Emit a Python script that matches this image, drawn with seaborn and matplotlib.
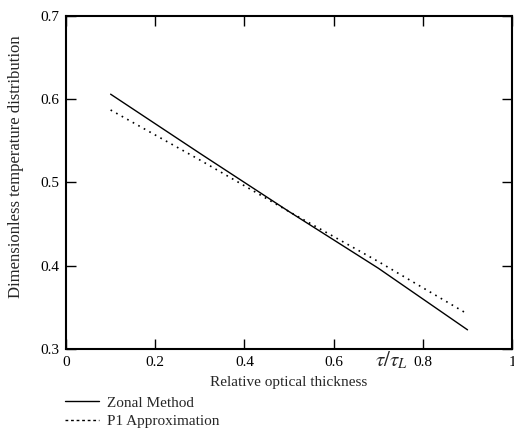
import matplotlib
matplotlib.use("Agg")
import matplotlib.pyplot as plt
import seaborn as sns
import pandas as pd
from matplotlib.lines import Line2D

tau = [0.1, 0.3, 0.5, 0.7, 0.9]
zonal = [0.606, 0.535, 0.465, 0.397, 0.323]
p1 = [0.587, 0.527, 0.465, 0.405, 0.342]
xticks = [0, 0.2, 0.4, 0.6, 0.8, 1]
yticks = [0.3, 0.4, 0.5, 0.6, 0.7]
xtick_labels = ["0", "0.2", "0.4", "0.6", "0.8", "1"]
ytick_labels = ["0.3", "0.4", "0.5", "0.6", "0.7"]

sns.set_theme(style="ticks")
plt.rcParams['font.family'] = ['Liberation Serif', 'DejaVu Serif']
plt.rcParams['mathtext.fontset'] = 'stix'

df = pd.DataFrame({"tau": tau + tau,
                   "val": zonal + p1,
                   "method": ["Zonal Method"] * len(tau) + ["P1 Approximation"] * len(tau)})

fig = plt.figure(figsize=(5.14, 4.3), dpi=100)
ax = fig.add_axes([0.1284, 0.1884, 0.868, 0.7746])

sns.lineplot(data=df[df.method == "Zonal Method"], x="tau", y="val", ax=ax,
             color="black", lw=1.0, legend=False)
sns.lineplot(data=df[df.method == "P1 Approximation"], x="tau", y="val", ax=ax,
             color="black", lw=1.2, legend=False)
ax.lines[1].set_linestyle((0, (1, 2.8)))

ax.set_xlim(0, 1)
ax.set_ylim(0.3, 0.7)
ax.set_xticks(xticks)
ax.set_xticklabels(xtick_labels, fontsize=11)
ax.set_yticks(yticks)
ax.set_yticklabels(ytick_labels, fontsize=11)
ax.tick_params(direction="in", top=True, right=True, length=7, width=1, pad=5, colors="black")
for s in ax.spines.values():
    s.set_linewidth(1.5)
    s.set_color("black")

ax.set_xlabel("Relative optical thickness", fontsize=11, labelpad=5)
ax.set_ylabel("Dimensionless temperature distribution", fontsize=12)
ax.yaxis.set_label_coords(-0.095, 0.546)

ax.text(0.73, -0.035, r"$\tau/\tau_L$", transform=ax.transAxes, ha="center", va="center",
        fontsize=15)

handles = [Line2D([], [], color="black", lw=1.0),
           Line2D([], [], color="black", lw=1.0, linestyle=(0, (2, 2)))]
fig.legend(handles, ["Zonal Method", "P1 Approximation"], loc="upper left",
           bbox_to_anchor=(0.127, 0.079), frameon=False, fontsize=11,
           handlelength=2.2, handletextpad=0.55, labelspacing=0.3, borderpad=0,
           borderaxespad=0)

fig.savefig("out.png", dpi=100)
